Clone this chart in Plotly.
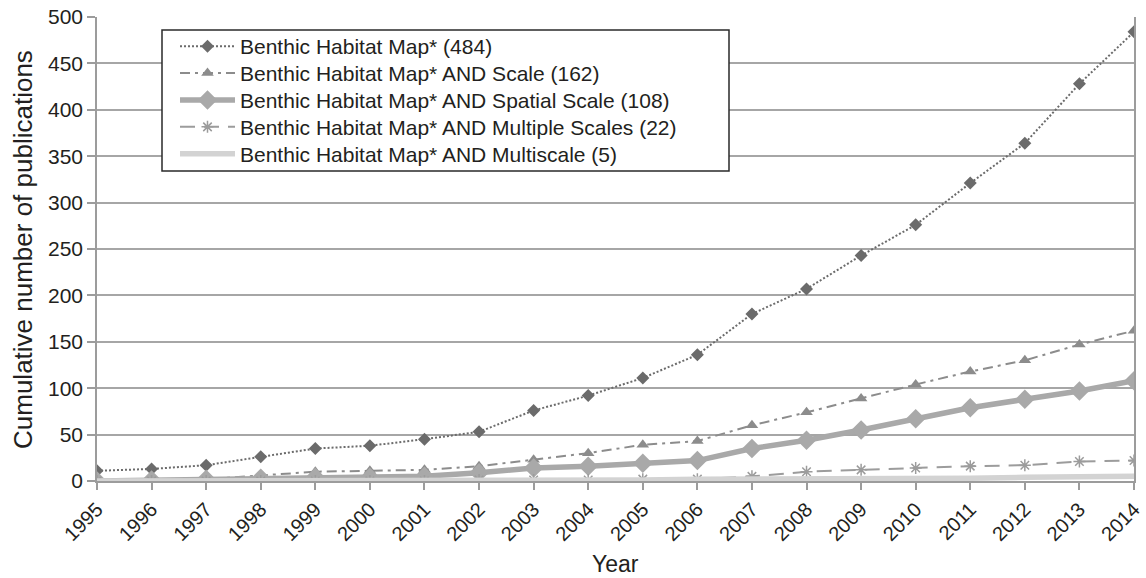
import plotly.graph_objects as go

years = list(range(1995, 2015))
year_labels = [str(y) for y in years]

s_habitat = [11, 13, 17, 26, 35, 38, 45, 53, 76, 92, 111, 136, 180, 207, 243, 276, 321, 364, 428, 484]
s_scale = [0, 1, 2, 6, 10, 11, 12, 16, 23, 30, 39, 43, 60, 74, 89, 104, 118, 130, 147, 162]
s_spatial = [0, 1, 2, 3, 4, 4, 5, 9, 14, 16, 19, 22, 35, 44, 55, 67, 79, 88, 97, 108]
s_multiple = [0, 0, 0, 0, 0, 0, 0, 1, 1, 1, 2, 2, 5, 10, 12, 14, 16, 17, 21, 22]
s_multiscale = [0, 0, 0, 0, 0, 0, 0, 0, 1, 1, 1, 2, 2, 2, 3, 3, 3, 4, 5, 5]

names = [
    "Benthic Habitat Map* (484)",
    "Benthic Habitat Map* AND Scale (162)",
    "Benthic Habitat Map* AND Spatial Scale (108)",
    "Benthic Habitat Map* AND Multiple Scales (22)",
    "Benthic Habitat Map* AND Multiscale (5)",
]
x_title = "Year"
y_title = "Cumulative number of publications"

FONT = "Liberation Sans, Arial, Helvetica, sans-serif"
TXT = "#231f20"

# plot-area geometry (px) used to place paper-coordinate items
W, H = 1146, 578
L, R, T, B = 97, 12, 17, 97
PW, PH = W - L - R, H - T - B


def px_x(px):
    return (px - L) / PW


def px_y(py):
    return (H - B - py) / PH


fig = go.Figure()

legend_ids = ["legend", "legend2", "legend3", "legend4", "legend5"]

fig.add_trace(go.Scatter(
    x=years, y=s_habitat, name=names[0], mode="lines+markers", legend=legend_ids[0],
    line=dict(color="#6b6b6b", width=2, dash="2px,2px"),
    marker=dict(symbol="diamond", size=10, color="#6b6b6b"),
))
fig.add_trace(go.Scatter(
    x=years, y=s_scale, name=names[1], mode="lines+markers", legend=legend_ids[1],
    line=dict(color="#8c8c8c", width=2, dash="10px,5px,3px,5px"),
    marker=dict(symbol="triangle-up", size=11, color="#8c8c8c"),
))
fig.add_trace(go.Scatter(
    x=years, y=s_spatial, name=names[2], mode="lines+markers", legend=legend_ids[2],
    line=dict(color="#a9a9a9", width=5.5),
    marker=dict(symbol="diamond", size=15, color="#a9a9a9"),
))
fig.add_trace(go.Scatter(
    x=years, y=s_multiple, name=names[3], mode="lines+markers", legend=legend_ids[3],
    line=dict(color="#9c9c9c", width=2, dash="15px,9px"),
    marker=dict(symbol="asterisk-open", size=10, color="#9c9c9c",
                line=dict(color="#9c9c9c", width=1.5)),
))
fig.add_trace(go.Scatter(
    x=years, y=s_multiscale, name=names[4], mode="lines", legend=legend_ids[4],
    line=dict(color="#d3d3d3", width=5.5),
))

# legend frame
fig.add_shape(
    type="rect", xref="paper", yref="paper",
    x0=px_x(162), x1=px_x(729), y0=px_y(171), y1=px_y(30),
    line=dict(color="#2a2a2a", width=1.5), fillcolor="white", layer="above",
)

fig.add_annotation(
    text=x_title, xref="paper", yref="paper", x=0.5, y=px_y(564),
    xanchor="center", yanchor="middle", showarrow=False,
    font=dict(family=FONT, size=23, color=TXT),
)
fig.add_annotation(
    text=y_title, xref="paper", yref="paper", x=px_x(23), y=px_y(250),
    xanchor="center", yanchor="middle", showarrow=False, textangle=-90,
    font=dict(family=FONT, size=26, color=TXT),
)

legend_rows = [46.5, 73.4, 100.3, 127.2, 154.1]
legend_layout = {}
for lid, row in zip(legend_ids, legend_rows):
    legend_layout[lid] = dict(
        x=px_x(175), y=px_y(row), xanchor="left", yanchor="middle",
        bgcolor="rgba(0,0,0,0)", borderwidth=0,
        font=dict(family=FONT, size=21, color=TXT),
        itemwidth=55,
    )

fig.update_layout(
    width=W, height=H,
    margin=dict(l=L, r=R, t=T, b=B),
    paper_bgcolor="white", plot_bgcolor="white",
    font=dict(family=FONT, color=TXT, size=20),
    showlegend=True,
    xaxis=dict(
        range=[1995, 2014], automargin=False,
        tickmode="array", tickvals=years, ticktext=year_labels,
        tickangle=-45, tickfont=dict(size=20, color=TXT),
        showgrid=False, zeroline=False,
        showline=True, linecolor="#9c9c9c", linewidth=1.5,
        ticks="outside", ticklen=7, tickcolor="#9c9c9c", tickwidth=1.5,
    ),
    yaxis=dict(
        range=[0, 500], dtick=50, automargin=False,
        tickfont=dict(size=21, color=TXT),
        showgrid=True, gridcolor="#a6a6a6", gridwidth=1.5,
        zeroline=False,
        showline=True, linecolor="#9c9c9c", linewidth=1.5, mirror=True,
        ticks="outside", ticklen=8, tickcolor="#9c9c9c", tickwidth=1.5,
    ),
    **legend_layout,
)

fig.write_html(
    "out.html",
    config={"displayModeBar": False},
    post_script="document.body.style.margin='0';document.body.style.overflow='hidden';",
)
